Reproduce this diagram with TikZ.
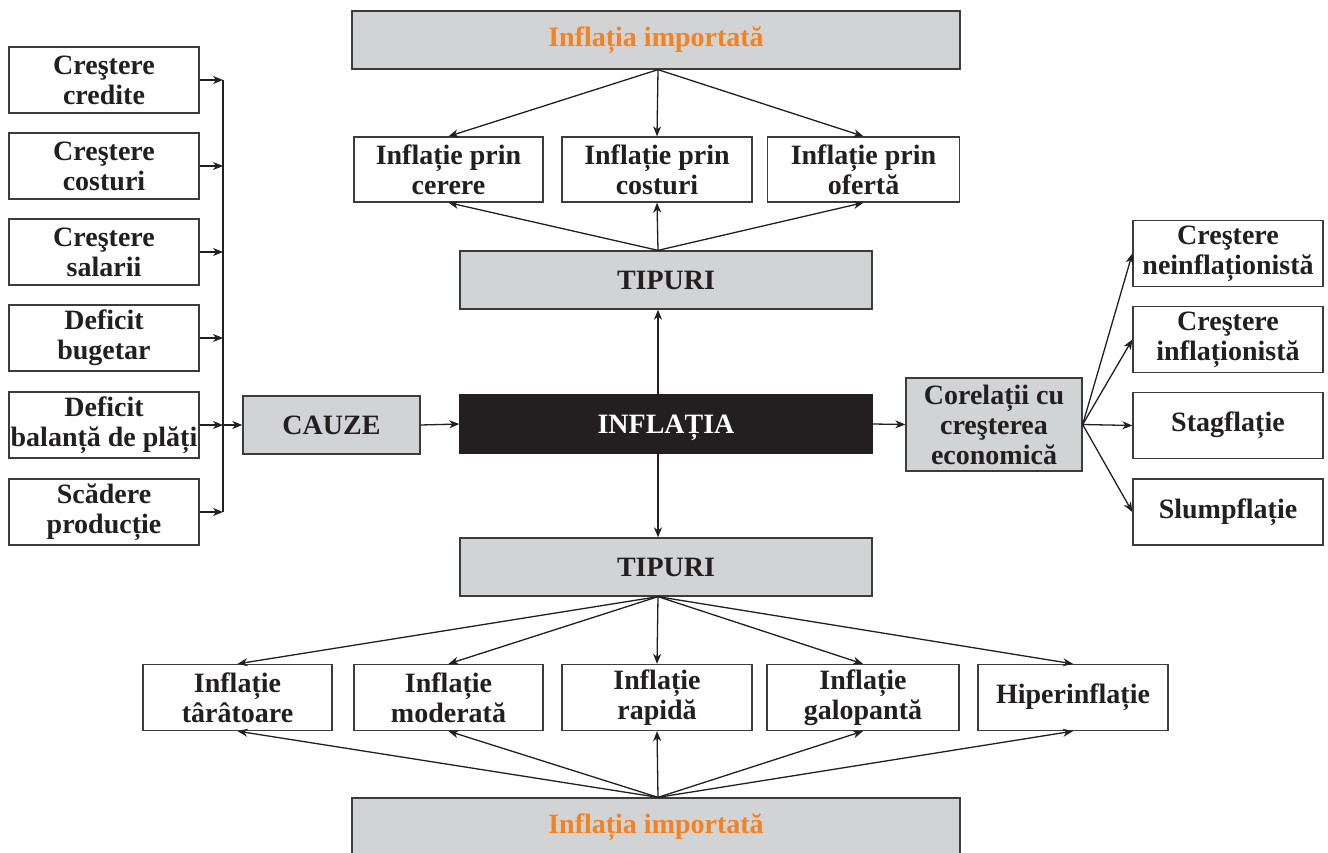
\documentclass[tikz,border=0pt]{standalone}
\usepackage{fontspec}
\setmainfont{Liberation Serif}
\usetikzlibrary{arrows.meta}
\definecolor{boxgray}{RGB}{209,211,212}
\definecolor{txt}{RGB}{35,31,32}
\definecolor{orng}{RGB}{245,130,32}
\definecolor{edge}{RGB}{60,60,60}
\begin{document}
\begin{tikzpicture}[x=1pt,y=-1pt,
  box/.style={draw=edge, line width=1.3pt, fill=white, inner sep=0pt, align=center,
    font=\bfseries\fontsize{28}{30}\selectfont, text=txt, minimum height=66pt, minimum width=190pt},
  gbox/.style={box, fill=boxgray, minimum height=58pt},
  arr/.style={-{Stealth[length=10pt,width=8pt,inset=3pt]}, line width=1.3pt, draw=txt},
  ln/.style={line width=1.3pt, draw=txt}]
\useasboundingbox (0,0) rectangle (1328,853);
\clip (0,0) rectangle (1328,853);

% top imported inflation
\node[gbox, minimum width=608pt, text=orng] (imptop) at (656,40) {Inflația importată};
\node[box, minimum height=65pt, minimum width=189pt] (tA) at (448.5,169.5) {Inflație prin\\cerere};
\node[box, minimum height=65pt, minimum width=190pt] (tB) at (657,169.5) {Inflație prin\\costuri};
\node[box, minimum height=65pt, minimum width=192pt] (tC) at (863.5,169.5) {Inflație prin\\ofertă};
\node[gbox, minimum width=412pt] (tipT) at (666,280) {TIPURI};

% centre row
\node[gbox, minimum width=412pt, fill=txt, draw=txt, text=white] (infl) at (666,424) {INFLA\smash{Ț}IA};
\node[gbox, minimum width=177pt] (cauze) at (331.5,425) {CAUZE};
\node[gbox, minimum width=176pt, minimum height=93pt] (corel) at (994,424.5) {Corelații cu\\creşterea\\economică};

% left column
\node[box] (L1) at (104,80) {Creştere\\credite};
\node[box] (L2) at (104,166) {Creştere\\costuri};
\node[box] (L3) at (104,252) {Creştere\\salarii};
\node[box] (L4) at (104,338) {Deficit\\bugetar};
\node[box] (L5) at (104,425) {Deficit\\balanță de plăți};
\node[box] (L6) at (104,512) {Scădere\\producție};
\coordinate (busx) at (223,0);

% right column
\node[box] (R1) at (1228,253.5) {Creştere\\neinflaționistă};
\node[box] (R2) at (1228,339.5) {Creştere\\inflaționistă};
\node[box] (R3) at (1228,425.5) {Stagflație};
\node[box] (R4) at (1228,512) {Slumpflație};

% lower part
\node[gbox, minimum width=412pt] (tipB) at (666,567) {TIPURI};
\node[box, minimum width=189pt] (B1) at (237.5,697.5) {Inflație\\târâtoare};
\node[box, minimum width=189pt] (B2) at (448.5,697.5) {Inflație\\moderată};
\node[box, minimum width=190pt] (B3) at (657,697.5) {Inflație\\rapidă};
\node[box, minimum width=192pt] (B4) at (863,697.5) {Inflație\\galopantă};
\node[box, minimum width=190pt] (B5) at (1073,697.5) {Hiperinflație};
\node[gbox, minimum width=608pt, text=orng] (impbot) at (656,827) {Inflația importată};

% connectors: left bus
\foreach \n in {L1,L2,L3,L4,L5,L6}
  \draw[arr] (\n.east) -- (\n.east -| busx);
\draw[ln] (busx |- L1.east) -- (busx |- L6.east);
\draw[arr] (busx |- cauze.west) -- (cauze.west);
\draw[arr] (cauze.east) -- (infl.west);
\draw[arr] (infl.east) -- (corel.west);

% right fan
\foreach \n in {R1,R2,R3,R4}
  \draw[arr] (corel.east) -- (\n.west);

% vertical spine
\draw[arr] ([xshift=-8pt]infl.north) -- ([xshift=-8pt]tipT.south);
\draw[arr] ([xshift=-8pt]infl.south) -- ([xshift=-8pt]tipB.north);

% top fans
\foreach \n in {tA,tB,tC} {
  \draw[arr] ([xshift=2pt]imptop.south) -- (\n.north);
  \draw[arr] ([xshift=-8pt]tipT.north) -- (\n.south);
}

% bottom fans
\foreach \n in {B1,B2,B3,B4,B5} {
  \draw[arr] ([xshift=-8pt]tipB.south) -- (\n.north);
  \draw[arr] ([xshift=2pt]impbot.north) -- (\n.south);
}
\end{tikzpicture}
\end{document}
